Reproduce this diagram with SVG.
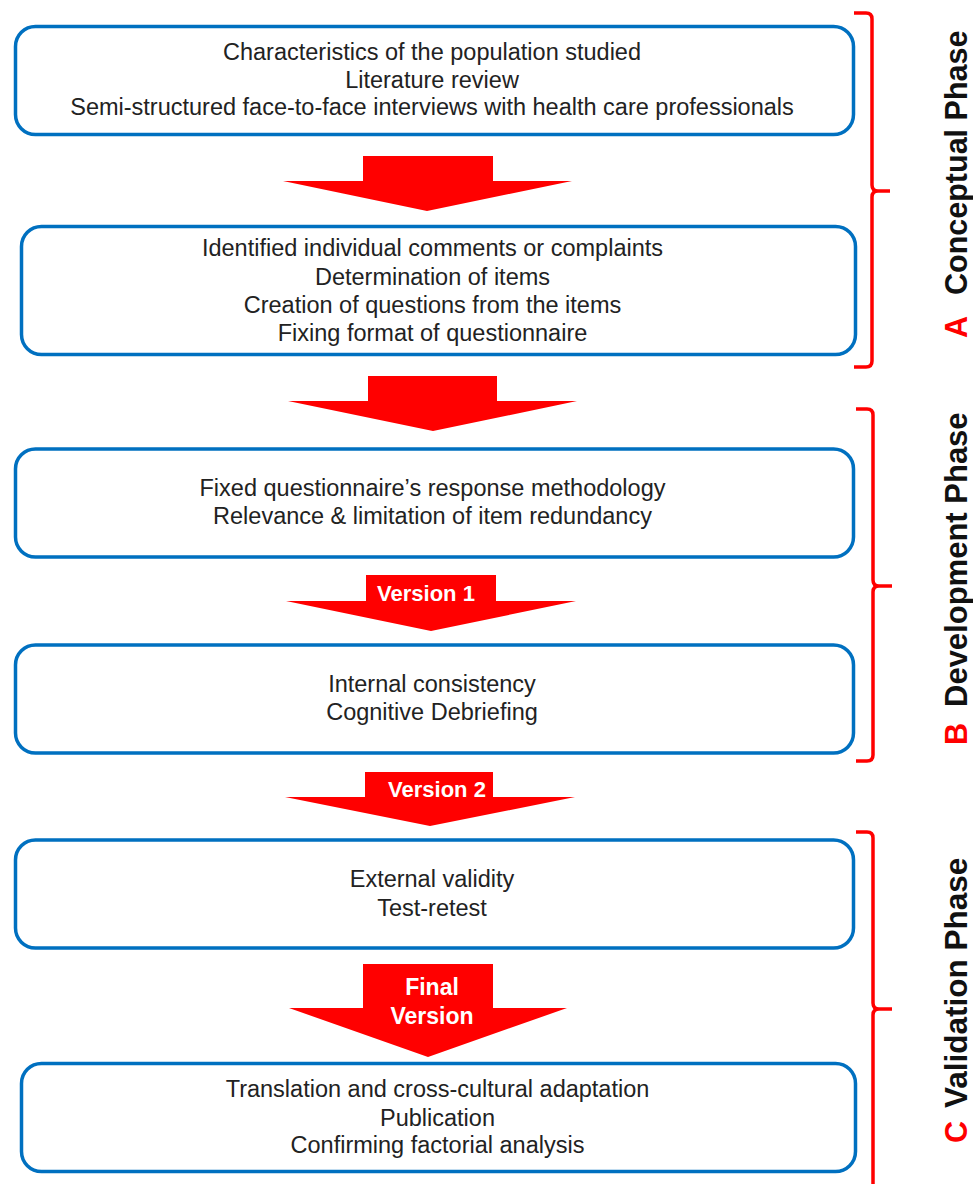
<svg xmlns="http://www.w3.org/2000/svg" width="973" height="1184" viewBox="0 0 973 1184">
<style>
.box{fill:#fff;stroke:#0070C0;stroke-width:3.5}
.t{font-family:"Liberation Sans",Arial,sans-serif;font-size:23.5px;fill:#222;text-anchor:middle}
.arrow{fill:#FF0000}
.vt{font-family:"Liberation Sans",Arial,sans-serif;font-size:22px;font-weight:bold;fill:#fff;text-anchor:middle}
.br{fill:none;stroke:#FF0000;stroke-width:3.5}
.ph{font-family:"Liberation Sans",Arial,sans-serif;font-size:30.5px;font-weight:bold;fill:#111}
.lt{font-family:"Liberation Sans",Arial,sans-serif;font-size:30.5px;font-weight:bold;fill:#FF0000}
</style>
<rect width="973" height="1184" fill="#fff"/>
<g id="connectors">
  <polygon class="arrow" points="363,156 493,156 493,181 572,181 427,211 283,181 363,181"/>
  <polygon class="arrow" points="368,376 497,376 497,401 577,401 433,431 288,401 368,401"/>
  <polygon class="arrow" points="366,575 496,575 496,601 576,601 431,631 286,601 366,601"/>
  <text class="vt" x="426" y="601">Version 1</text>
  <polygon class="arrow" points="365,772 493,772 493,797 575,797 430,826 285,797 365,797"/>
  <text class="vt" x="437" y="797">Version 2</text>
  <polygon class="arrow" points="363,964 493,964 493,1008 567,1008 428,1057 289,1008 363,1008"/>
  <text class="vt" style="font-size:23px" x="432" y="995">Final</text>
  <text class="vt" style="font-size:23px" x="432" y="1024">Version</text>
</g>
<g id="node1">
  <rect class="box" x="15.5" y="26.5" width="838" height="108" rx="20"/>
  <text class="t" x="432" y="60">Characteristics of the population studied</text>
  <text class="t" x="432" y="88">Literature review</text>
  <text class="t" x="432" y="115">Semi-structured face-to-face interviews with health care professionals</text>
</g>
<g id="node2">
  <rect class="box" x="21.5" y="226.5" width="834" height="128" rx="20"/>
  <text class="t" x="432.5" y="256">Identified individual comments or complaints</text>
  <text class="t" x="432.5" y="285">Determination of items</text>
  <text class="t" x="432.5" y="313">Creation of questions from the items</text>
  <text class="t" x="432.5" y="341">Fixing format of questionnaire</text>
</g>
<g id="node3">
  <rect class="box" x="15.5" y="449" width="838" height="108" rx="20"/>
  <text class="t" x="432.5" y="496">Fixed questionnaire’s response methodology</text>
  <text class="t" x="432.5" y="524">Relevance &amp; limitation of item redundancy</text>
</g>
<g id="node4">
  <rect class="box" x="15.5" y="645" width="838" height="108" rx="20"/>
  <text class="t" x="432" y="692">Internal consistency</text>
  <text class="t" x="432" y="720">Cognitive Debriefing</text>
</g>
<g id="node5">
  <rect class="box" x="15.5" y="840" width="838" height="108" rx="20"/>
  <text class="t" x="432" y="887">External validity</text>
  <text class="t" x="432" y="916">Test-retest</text>
</g>
<g id="node6">
  <rect class="box" x="21.5" y="1063.5" width="834" height="108" rx="20"/>
  <text class="t" x="437.5" y="1097">Translation and cross-cultural adaptation</text>
  <text class="t" x="437.5" y="1126">Publication</text>
  <text class="t" x="437.5" y="1153">Confirming factorial analysis</text>
</g>
<g id="phaseA">
  <path class="br" d="M854 13 H866 Q872 13 872 19 V185 Q872 191 878 191 H890 M878 191 Q872 191 872 197 V361 Q872 367 866 367 H854"/>
  <text class="lt" transform="translate(967,338) rotate(-90)">A</text>
  <text class="ph" transform="translate(967,295) rotate(-90)">Conceptual Phase</text>
</g>
<g id="phaseB">
  <path class="br" d="M856 409 H867 Q873 409 873 415 V580 Q873 586 879 586 H892 M879 586 Q873 586 873 592 V755 Q873 761 867 761 H856"/>
  <text class="lt" transform="translate(967,745) rotate(-90)">B</text>
  <text class="ph" style="font-size:31px" transform="translate(967,707) rotate(-90)">Development Phase</text>
</g>
<g id="phaseC">
  <path class="br" d="M856 832 H867 Q873 832 873 838 V1003 Q873 1009 879 1009 H892 M879 1009 Q873 1009 873 1015 V1186"/>
  <text class="lt" transform="translate(967,1143) rotate(-90)">C</text>
  <text class="ph" style="font-size:31.5px" transform="translate(967,1108) rotate(-90)">Validation Phase</text>
</g>
</svg>
